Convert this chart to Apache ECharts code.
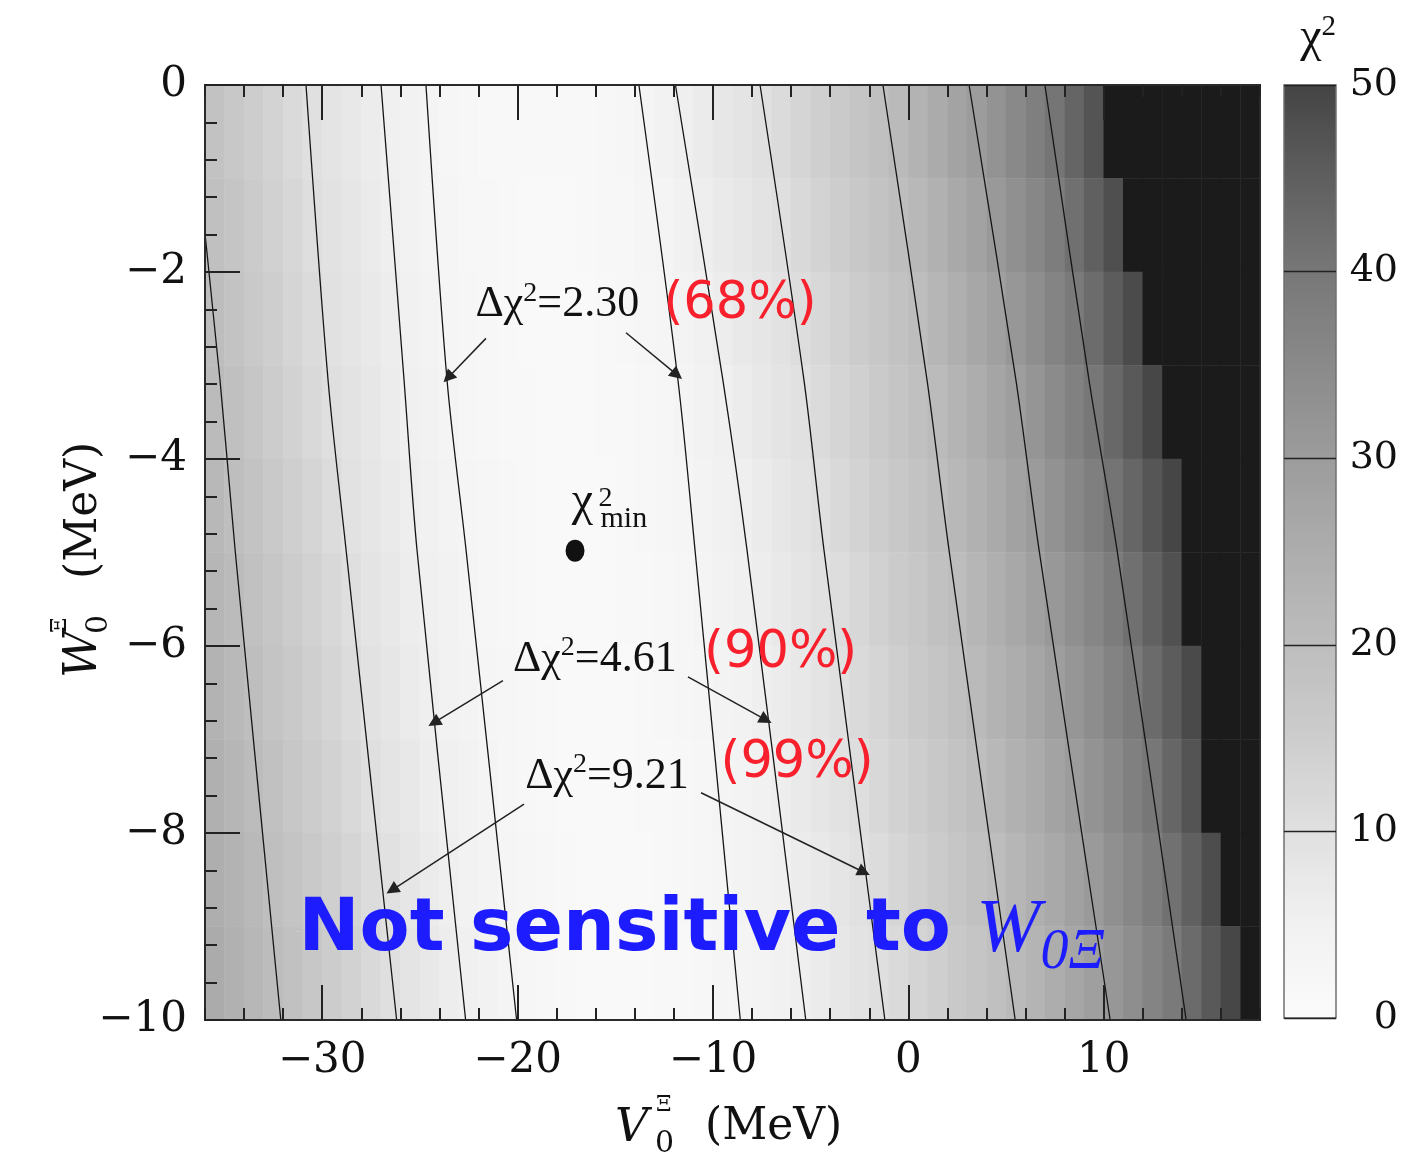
<!DOCTYPE html>
<html>
<head>
  <meta charset="utf-8">
</head>
<body style="margin: 0; background: #fff">
  <div id="container" style="width: 1414px; height: 1157px"></div>

  <script type="text/javascript" src="https://cdn.jsdelivr.net/npm/echarts@6.0.0/dist/echarts.min.js"></script>
  <script type="text/javascript">
    // cell centres of the chi^2 map: V0 (MeV) columns, W0 (MeV) rows from top to bottom
    var vCenters = [-35.5, -34.5, -33.5, -32.5, -31.5, -30.5, -29.5, -28.5, -27.5, -26.5, -25.5, -24.5, -23.5, -22.5, -21.5, -20.5, -19.5, -18.5,
      -17.5, -16.5, -15.5, -14.5, -13.5, -12.5, -11.5, -10.5, -9.5, -8.5, -7.5, -6.5, -5.5, -4.5, -3.5, -2.5, -1.5, -0.5,
      0.5, 1.5, 2.5, 3.5, 4.5, 5.5, 6.5, 7.5, 8.5, 9.5, 10.5, 11.5, 12.5, 13.5, 14.5, 15.5, 16.5, 17.5];
    var wCenters = [-0.5, -1.5, -2.5, -3.5, -4.5, -5.5, -6.5, -7.5, -8.5, -9.5];

    var chi2Rows = [
      [18.3, 16.6, 15.0, 13.3, 11.6, 10.0, 8.8, 7.6, 6.4, 5.3, 4.3, 3.3, 2.6, 2.1, 1.7, 1.45, 1.3, 1.3, 1.45, 1.7, 2.1, 2.6, 3.3, 4.5, 5.6, 6.7, 7.8, 8.9, 9.9, 11.3, 12.9, 14.4, 16.0, 17.6, 19.1, 21.0, 23.2, 25.5, 27.8, 30.0, 32.6, 35.2, 37.8, 40.5, 43.8, 47.1, 52, 60, 60, 60, 60, 60, 60, 60],
      [19.1, 17.4, 15.7, 14.0, 12.3, 10.6, 9.3, 8.1, 6.9, 5.7, 4.65, 3.6, 2.8, 2.2, 1.8, 1.45, 1.25, 1.2, 1.25, 1.45, 1.8, 2.25, 2.85, 3.7, 4.8, 5.9, 7.0, 8.05, 9.1, 10.2, 11.8, 13.35, 14.9, 16.5, 18.0, 19.6, 21.6, 23.9, 26.1, 28.3, 30.7, 33.3, 35.9, 38.5, 41.4, 44.7, 47.9, 51.2, 60, 60, 60, 60, 60, 60],
      [19.9, 18.2, 16.4, 14.7, 12.9, 11.2, 9.7, 8.5, 7.3, 6.1, 5.0, 4.0, 3.05, 2.4, 1.9, 1.5, 1.25, 1.1, 1.1, 1.25, 1.5, 1.9, 2.45, 3.1, 4.05, 5.1, 6.15, 7.25, 8.35, 9.45, 10.7, 12.2, 13.8, 15.4, 16.9, 18.5, 20.0, 22.2, 24.5, 26.7, 28.9, 31.3, 33.9, 36.6, 39.3, 42.3, 45.5, 48.7, 51.9, 60, 60, 60, 60, 60],
      [20.7, 19.0, 17.2, 15.4, 13.7, 11.9, 10.25, 9.0, 7.8, 6.6, 5.4, 4.4, 3.4, 2.65, 2.05, 1.6, 1.3, 1.1, 1.05, 1.1, 1.3, 1.65, 2.1, 2.7, 3.45, 4.4, 5.4, 6.45, 7.55, 8.7, 9.8, 11.2, 12.8, 14.3, 15.9, 17.4, 19.0, 20.7, 22.9, 25.1, 27.3, 29.5, 32.0, 34.7, 37.3, 40.0, 43.1, 46.2, 49.4, 52.5, 60, 60, 60, 60],
      [21.5, 19.7, 18.0, 16.3, 14.5, 12.8, 11.0, 9.55, 8.3, 7.05, 5.8, 4.8, 3.9, 3.0, 2.35, 1.8, 1.4, 1.15, 1.0, 1.0, 1.15, 1.4, 1.85, 2.35, 3.05, 3.9, 4.8, 5.7, 6.85, 8.0, 9.15, 10.3, 11.9, 13.4, 15.0, 16.5, 18.0, 19.6, 21.5, 23.7, 25.9, 28.1, 30.3, 32.9, 35.4, 37.9, 40.6, 43.6, 46.7, 49.7, 52.8, 60, 60, 60],
      [22.3, 20.5, 18.8, 17.1, 15.4, 13.7, 12.0, 10.2, 8.9, 7.6, 6.3, 5.2, 4.3, 3.4, 2.65, 2.05, 1.6, 1.25, 1.05, 1.0, 1.05, 1.3, 1.6, 2.1, 2.7, 3.45, 4.3, 5.15, 6.1, 7.3, 8.45, 9.6, 10.9, 12.5, 14.0, 15.5, 17.0, 18.6, 20.1, 22.3, 24.5, 26.6, 28.8, 31.1, 33.6, 36.1, 38.6, 41.4, 44.5, 47.6, 50.6, 60, 60, 60],
      [23.2, 21.4, 19.6, 17.9, 16.2, 14.5, 12.8, 11.1, 9.55, 8.2, 6.9, 5.6, 4.75, 3.9, 3.05, 2.35, 1.8, 1.4, 1.15, 1.0, 1.0, 1.15, 1.45, 1.85, 2.4, 3.1, 3.85, 4.65, 5.45, 6.55, 7.7, 8.9, 10.05, 11.5, 13.0, 14.5, 16.1, 17.6, 19.1, 20.8, 23.0, 25.1, 27.2, 29.4, 31.8, 34.3, 36.8, 39.3, 42.4, 45.6, 48.9, 52.1, 60, 60],
      [24.0, 22.2, 20.4, 18.7, 17.0, 15.3, 13.6, 11.9, 10.2, 8.9, 7.6, 6.3, 5.15, 4.3, 3.45, 2.65, 2.05, 1.6, 1.25, 1.05, 1.0, 1.1, 1.3, 1.65, 2.1, 2.75, 3.5, 4.25, 5.0, 5.9, 7.05, 8.2, 9.35, 10.6, 12.1, 13.6, 15.1, 16.6, 18.1, 19.6, 21.5, 23.6, 25.7, 27.8, 30.0, 32.5, 35.0, 37.6, 40.1, 43.6, 47.0, 50.4, 60, 60],
      [24.8, 23.0, 21.2, 19.45, 17.8, 16.1, 14.4, 12.8, 11.1, 9.6, 8.3, 6.9, 5.6, 4.75, 3.9, 3.05, 2.35, 1.8, 1.4, 1.15, 1.0, 1.0, 1.15, 1.45, 1.9, 2.45, 3.15, 3.9, 4.6, 5.35, 6.35, 7.5, 8.65, 9.8, 11.1, 12.6, 14.1, 15.6, 17.1, 18.6, 20.1, 22.2, 24.3, 26.3, 28.4, 30.6, 33.2, 35.7, 38.3, 41.2, 44.8, 48.4, 52.0, 60],
      [25.6, 23.8, 22.0, 20.2, 18.6, 16.9, 15.2, 13.6, 11.9, 10.3, 8.95, 7.6, 6.3, 5.2, 4.3, 3.45, 2.7, 2.1, 1.6, 1.25, 1.05, 1.0, 1.1, 1.3, 1.65, 2.15, 2.8, 3.55, 4.25, 4.95, 5.65, 6.8, 7.95, 9.05, 10.2, 11.7, 13.2, 14.6, 16.1, 17.6, 19.1, 20.8, 22.8, 24.9, 27.0, 29.0, 31.4, 33.9, 36.5, 39.1, 42.4, 46.2, 49.5, 55]
    ];

    // contour lines: V0 where each contour crosses these W0 levels
    var contourW = [0, -3.16, -4.97, -10];
    var contour20L = [-36.8, -35.23, -34.46, -32.12];
    var contour921L = [-30.83, -29.70, -28.78, -26.19];
    var contour461L = [-26.99, -25.81, -25.15, -22.66];
    var contour230L = [-24.69, -23.61, -22.64, -20.05];
    var contour230R = [-13.79, -11.79, -10.92, -8.60];
    var contour461R = [-11.92, -9.49, -8.26, -5.25];
    var contour921R = [-7.59, -5.34, -4.32, -1.20];
    var contour20R = [-1.30, 0.96, 2.08, 5.47];
    var contour30R = [3.11, 5.51, 6.69, 10.33];
    var contour40R = [6.99, 9.25, 10.68, 14.22];

    // best fit point
    var chi2MinPoint = [-17.06, -4.98];

    // tick labels
    var xTickLabels = [-30, -20, -10, 0, 10];
    var yTickLabels = [-10, -8, -6, -4, -2, 0];
    var colorbarTicks = [0, 10, 20, 30, 40, 50];

    var dom = document.getElementById('container');
    var myChart = echarts.init(dom, null, { renderer: 'canvas' });

    var heatData = [];
    chi2Rows.forEach(function (row, r) {
      row.forEach(function (val, c) {
        heatData.push([c, r, val]);
      });
    });

    var contourLines = [contour20L, contour921L, contour461L, contour230L, contour230R,
      contour461R, contour921R, contour20R, contour30R, contour40R];

    function fmt(v) {
      return v < 0 ? '\u2212' + Math.abs(v) : String(v);
    }

    var serif = 'DejaVu Serif';
    var times = 'Liberation Serif';
    var tickStyle = { color: '#222', width: 2 };
    var plotRect = { left: 205, top: 85, width: 1055, height: 935 };
    var red = '#f7202c';
    var blue = '#1c1cff';

    var richText = {
      a: { fontFamily: times, fontSize: 44, color: '#111', lineHeight: 50, opacity: 1 },
      s: { fontFamily: times, fontSize: 28, color: '#111', lineHeight: 28, verticalAlign: 'top', opacity: 1 },
      r: { fontFamily: 'DejaVu Sans', fontSize: 51, color: red, lineHeight: 58, opacity: 1 },
      c: { fontFamily: times, fontSize: 48, color: '#111', opacity: 1 },
      s2: { fontFamily: times, fontSize: 28, color: '#111', opacity: 1 },
      m: { fontFamily: times, fontSize: 30, color: '#111', opacity: 1 },
      b: { fontFamily: 'DejaVu Sans', fontWeight: 'bold', fontSize: 73, color: blue, lineHeight: 100, opacity: 1 },
      w: { fontFamily: times, fontStyle: 'italic', fontSize: 77, color: blue, lineHeight: 80, opacity: 1 },
      ws: { fontFamily: times, fontStyle: 'italic', fontSize: 56, color: blue, lineHeight: 56, verticalAlign: 'bottom', opacity: 1 }
    };

    var series = [
      {
        type: 'heatmap',
        xAxisIndex: 0,
        yAxisIndex: 0,
        data: heatData,
        itemStyle: { borderWidth: 0 },
        emphasis: { disabled: true },
        silent: true
      }
    ];

    contourLines.forEach(function (vs) {
      series.push({
        type: 'line',
        xAxisIndex: 1,
        yAxisIndex: 1,
        data: vs.map(function (v, i) { return [v, contourW[i]]; }),
        showSymbol: false,
        smooth: 0.3,
        lineStyle: { color: '#151515', width: 1.3 },
        silent: true,
        z: 3
      });
    });

    series.push({
      type: 'lines',
      coordinateSystem: 'cartesian2d',
      xAxisIndex: 1,
      yAxisIndex: 1,
      symbol: ['none', 'triangle'],
      symbolSize: 13,
      lineStyle: { color: '#222', width: 1.5, opacity: 1 },
      silent: true,
      z: 4,
      data: [
        { coords: [[-21.62, -2.71], [-23.56, -3.13]] },
        { coords: [[-14.45, -2.65], [-11.84, -3.10]] },
        { coords: [[-20.75, -6.37], [-24.28, -6.82]] },
        { coords: [[-11.28, -6.33], [-7.29, -6.79]] },
        { coords: [[-19.67, -7.69], [-26.43, -8.61]] },
        { coords: [[-10.61, -7.57], [-2.27, -8.42]] }
      ]
    });

    series.push({
      type: 'scatter',
      xAxisIndex: 1,
      yAxisIndex: 1,
      data: [chi2MinPoint],
      symbol: 'circle',
      symbolSize: [19, 22],
      itemStyle: { color: '#111', opacity: 1 },
      silent: true,
      z: 5
    });

    series.push({
      type: 'scatter',
      xAxisIndex: 1,
      yAxisIndex: 1,
      symbolSize: 1,
      itemStyle: { color: '#fff', opacity: 1 },
      silent: true,
      z: 6,
      label: {
        show: true,
        position: 'right',
        distance: 0,
        align: 'left',
        verticalAlign: 'middle',
        opacity: 1,
        rich: richText
      },
      data: [
        { value: [-22.18, -2.35], label: { formatter: '{a|\u0394\u03c7}{s|2}{a|=2.30}' } },
        { value: [-12.56, -2.35], label: { formatter: '{r|(68%)}' } },
        { value: [-20.26, -6.14], label: { formatter: '{a|\u0394\u03c7}{s|2}{a|=4.61}' } },
        { value: [-10.48, -6.08], label: { formatter: '{r|(90%)}' } },
        { value: [-19.64, -7.39], label: { formatter: '{a|\u0394\u03c7}{s|2}{a|=9.21}' } },
        { value: [-9.64, -7.26], label: { formatter: '{r|(99%)}' } },
        { value: [-17.25, -4.46], label: { formatter: '{c|\u03c7}' } },
        { value: [-15.88, -4.42], label: { formatter: '{s2|2}' } },
        { value: [-15.78, -4.64], label: { formatter: '{m|min}' } },
        { value: [-31.24, -9.05], label: { formatter: '{b|Not sensitive to }{w|W}{ws|0\u039e}' } }
      ]
    });

    var option = {
      animation: false,
      backgroundColor: '#fff',
      grid: [
        Object.assign({}, plotRect),
        Object.assign({ show: true, borderColor: '#2a2a2a', borderWidth: 2, backgroundColor: 'transparent', z: 10 }, plotRect),
        { left: 1284, top: 85, width: 52, height: 933, show: true, borderColor: '#707070', borderWidth: 1.5, backgroundColor: 'transparent', z: 10 }
      ],
      visualMap: {
        type: 'continuous',
        seriesIndex: 0,
        min: 0,
        max: 50,
        range: [0, 49.99],
        left: 1284,
        top: 85,
        padding: 0,
        itemWidth: 52,
        itemHeight: 933,
        calculable: false,
        hoverLink: false,
        inRange: {
          color: ['#fbfbfb', '#f1f1f1', '#e0e0e0', '#cdcdcd', '#bdbdbd', '#adadad', '#9c9c9c', '#8a8a8a', '#777777', '#5f5f5f', '#444444']
        },
        outOfRange: { color: '#1b1b1b' }
      },
      xAxis: [
        { type: 'category', gridIndex: 0, data: vCenters, show: false },
        {
          type: 'value', gridIndex: 1, position: 'bottom', min: -36, max: 18, interval: 2, z: 11,
          axisLine: { show: false, onZero: false },
          splitLine: { show: false },
          axisTick: { inside: true, length: 12, lineStyle: tickStyle },
          axisLabel: { customValues: xTickLabels, formatter: fmt, margin: 20, fontFamily: serif, fontSize: 42, color: '#111' }
        },
        {
          type: 'value', gridIndex: 1, position: 'bottom', min: -36, max: 18, z: 11,
          axisLine: { show: false, onZero: false },
          splitLine: { show: false },
          axisLabel: { show: false },
          axisTick: { inside: true, length: 35, customValues: xTickLabels, lineStyle: tickStyle }
        },
        {
          type: 'value', gridIndex: 1, position: 'top', min: -36, max: 18, interval: 2, z: 11,
          axisLine: { show: false, onZero: false },
          splitLine: { show: false },
          axisLabel: { show: false },
          axisTick: { inside: true, length: 12, lineStyle: tickStyle }
        },
        {
          type: 'value', gridIndex: 1, position: 'top', min: -36, max: 18, z: 11,
          axisLine: { show: false, onZero: false },
          splitLine: { show: false },
          axisLabel: { show: false },
          axisTick: { inside: true, length: 35, customValues: xTickLabels, lineStyle: tickStyle }
        },
        { type: 'value', gridIndex: 2, min: 0, max: 1, show: false }
      ],
      yAxis: [
        { type: 'category', gridIndex: 0, data: wCenters, inverse: true, show: false },
        {
          type: 'value', gridIndex: 1, position: 'left', min: -10, max: 0, interval: 0.4, z: 11,
          axisLine: { show: false, onZero: false },
          splitLine: { show: false },
          axisTick: { inside: true, length: 12, lineStyle: tickStyle },
          axisLabel: { customValues: yTickLabels, formatter: fmt, margin: 18, fontFamily: serif, fontSize: 42, color: '#111' }
        },
        {
          type: 'value', gridIndex: 1, position: 'left', min: -10, max: 0, z: 11,
          axisLine: { show: false, onZero: false },
          splitLine: { show: false },
          axisLabel: { show: false },
          axisTick: { inside: true, length: 35, customValues: yTickLabels, lineStyle: tickStyle }
        },
        {
          type: 'value', gridIndex: 2, position: 'right', min: 0, max: 50, interval: 10, z: 11,
          axisLine: { show: false, onZero: false },
          axisTick: { show: false },
          splitLine: { show: true, lineStyle: { color: '#222', width: 1.3 } },
          axisLabel: { customValues: colorbarTicks, align: 'right', margin: 62, fontFamily: serif, fontSize: 38, color: '#111' },
          name: '{c|\u03c7}{s|2}',
          nameLocation: 'end',
          nameGap: 22,
          nameTextStyle: {
            align: 'right',
            verticalAlign: 'bottom',
            rich: {
              c: { fontFamily: times, fontSize: 48, color: '#111', lineHeight: 50 },
              s: { fontFamily: times, fontSize: 29, color: '#111', lineHeight: 29, verticalAlign: 'top' }
            }
          }
        }
      ],
      graphic: {
        elements: [
          // x axis title  V0^Xi (MeV)
          { type: 'text', x: 615, y: 1129, style: { text: 'V', font: 'italic 46px "DejaVu Serif"', fill: '#111', verticalAlign: 'middle' } },
          { type: 'text', x: 656, y: 1105, style: { text: '\u039e', font: '22px "DejaVu Serif"', fill: '#111', verticalAlign: 'middle' } },
          { type: 'text', x: 655, y: 1144, style: { text: '0', font: '30px "DejaVu Serif"', fill: '#111', verticalAlign: 'middle' } },
          { type: 'text', x: 705, y: 1128, style: { text: '(MeV)', font: '44px "DejaVu Serif"', fill: '#111', verticalAlign: 'middle' } },
          // y axis title  W0^Xi (MeV), rotated
          {
            type: 'group', x: 100, y: 678, rotation: Math.PI / 2,
            children: [
              { type: 'text', x: 0, y: -16, style: { text: 'W', font: 'italic 46px "DejaVu Serif"', fill: '#111', verticalAlign: 'middle' } },
              { type: 'text', x: 45, y: -40, style: { text: '\u039e', font: '22px "DejaVu Serif"', fill: '#111', verticalAlign: 'middle' } },
              { type: 'text', x: 44, y: -1, style: { text: '0', font: '30px "DejaVu Serif"', fill: '#111', verticalAlign: 'middle' } },
              { type: 'text', x: 99, y: -15, style: { text: '(MeV)', font: '44px "DejaVu Serif"', fill: '#111', verticalAlign: 'middle' } }
            ]
          }
        ]
      },
      series: series
    };

    myChart.setOption(option);
    window.addEventListener('resize', myChart.resize);
  </script>
</body>
</html>
